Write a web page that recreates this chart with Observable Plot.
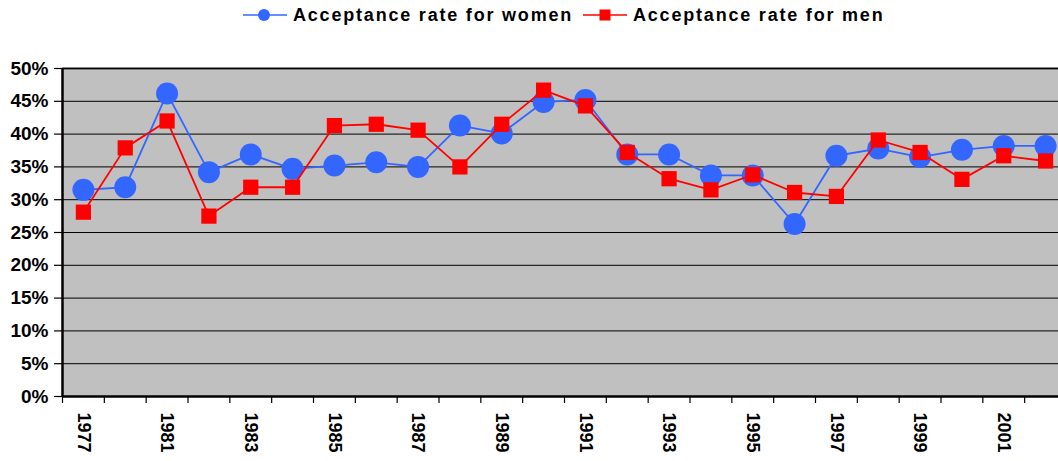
<!DOCTYPE html>
<html><head><meta charset="utf-8">
<script src="https://cdn.jsdelivr.net/npm/d3@7"></script>
<script src="https://cdn.jsdelivr.net/npm/@observablehq/plot@0.6"></script>
<style>
body{margin:0;background:#fff;font-family:"Liberation Sans",Arial,sans-serif;}
#legend{position:relative;height:40px;width:1058px;}
.item{position:absolute;top:0;height:30px;display:flex;align-items:center;}
.item span{font-weight:bold;font-size:18px;letter-spacing:1.8px;color:#000;margin-left:6px;}
</style></head><body>
<div id="legend"></div>
<div id="chart"></div>
<script>
const years = ["1977","1979","1981","1982","1983","1984","1985","1986","1987","1988","1989","1990","1991","1992","1993","1994","1995","1996","1997","1998","1999","2000","2001","2002"];
const women = [0.315,0.319,0.462,0.342,0.369,0.347,0.352,0.357,0.350,0.413,0.401,0.449,0.452,0.369,0.369,0.337,0.337,0.263,0.367,0.378,0.365,0.376,0.382,0.382];
const men   = [0.281,0.379,0.420,0.275,0.319,0.319,0.413,0.415,0.406,0.350,0.415,0.467,0.443,0.372,0.332,0.315,0.338,0.311,0.305,0.391,0.372,0.331,0.367,0.359];
const yTicks = [0,0.05,0.10,0.15,0.20,0.25,0.30,0.35,0.40,0.45,0.50];
const seriesNames = ["Acceptance rate for women","Acceptance rate for men"];
const seriesColors = ["#3366FF","#FF0000"];
const labelYears = years.filter((d,i)=>i%2===0);

// legend
const legend = document.getElementById("legend");
const legendPos = [243, 583];
seriesNames.forEach((name,k)=>{
  const it = document.createElement("div");
  it.className="item"; it.style.left = legendPos[k]+"px";
  const marker = k===0
    ? `<circle cx="21" cy="15" r="6" fill="${seriesColors[0]}"/>`
    : `<rect x="16.5" y="9.5" width="11" height="11" fill="${seriesColors[1]}"/>`;
  it.innerHTML = `<svg width="44" height="30"><line x1="0" x2="44" y1="15" y2="15" stroke="${seriesColors[k]}" stroke-width="1.6"/>${marker}</svg><span>${name}</span>`;
  legend.appendChild(it);
});

const rows = [];
years.forEach((y,i)=>{ rows.push({year:y, series:0, v:women[i]}); });
years.forEach((y,i)=>{ rows.push({year:y, series:1, v:men[i]}); });
const W = rows.filter(d=>d.series===0), M = rows.filter(d=>d.series===1);

const x0 = 62, x1 = 1066;
const bw = (x1-x0)/years.length;

const chart = Plot.plot({
  width: 1058, height: 421,
  marginTop: 28, marginBottom: 65, marginLeft: 62, marginRight: 0,
  style: {fontFamily: "Liberation Sans, Arial, sans-serif", background: "#fff", color: "#000", overflow: "hidden"},
  x: {type: "band", domain: years, range: [x0, x1], padding: 0, round: false, label: null},
  y: {domain: [0, 0.5], label: null},
  marks: [
    Plot.frame({fill: "#C0C0C0", stroke: null}),
    Plot.ruleY(yTicks.slice(1, -1), {stroke: "#000", strokeWidth: 1}),
    Plot.ruleY([0.5], {stroke: "#606060", strokeWidth: 2.5}),
    Plot.ruleY([0.5], {stroke: "#000", strokeWidth: 1}),
    Plot.axisY({ticks: yTicks, label: null, tickFormat: d => Math.round(d*100) + "%", tickSize: 8, tickPadding: 6, fontSize: 19, fontWeight: "bold", stroke: "#000", strokeWidth: 1.2, letterSpacing: 0.5}),
    Plot.axisX({ticks: years, label: null, tickSize: 7, tickFormat: () => "", dx: -bw/2, stroke: "#000", strokeWidth: 1.2}),
    Plot.axisX({ticks: labelYears, label: null, tickSize: 0, tickPadding: 16, tickRotate: 90, fontSize: 18, fontWeight: "bold"}),
    Plot.ruleY([0], {stroke: "#000", strokeWidth: 2.5}),
    Plot.ruleX([years[0]], {dx: -bw/2, stroke: "#000", strokeWidth: 2.5}),
    Plot.line(W, {x: "year", y: "v", stroke: seriesColors[0], strokeWidth: 1.8}),
    Plot.dot(W, {x: "year", y: "v", r: 11, fill: seriesColors[0], stroke: null}),
    Plot.line(M, {x: "year", y: "v", stroke: seriesColors[1], strokeWidth: 1.8}),
    Plot.dot(M, {x: "year", y: "v", r: 8.6, symbol: "square", fill: seriesColors[1], stroke: null})
  ]
});
document.getElementById("chart").appendChild(chart);
</script>
</body></html>
